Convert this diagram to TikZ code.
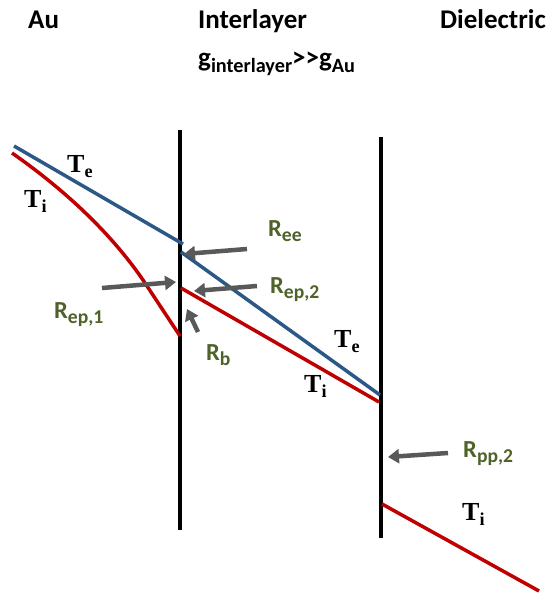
\documentclass[tikz,border=0pt]{standalone}
\usepackage{fontspec}
\setmainfont{Carlito}
\newfontfamily\timesf{Liberation Serif}
\usetikzlibrary{arrows.meta}
\definecolor{lineblue}{RGB}{44,88,135}
\definecolor{linered}{RGB}{192,0,0}
\definecolor{rgreen}{RGB}{79,98,40}
\definecolor{arrgray}{RGB}{89,89,89}
\newcommand{\hsub}[1]{\raisebox{-0.2em}{\scalebox{0.75}{#1}}}
\newcommand{\rsub}[1]{\raisebox{-0.24em}{\scalebox{0.8}{#1}}}
\newcommand{\tsub}[1]{\raisebox{-0.2em}{\scalebox{0.7}{#1}}}
\begin{document}
\begin{tikzpicture}[x=1pt,y=-1pt,
  hdr/.style={font=\fontsize{27}{30}\selectfont\bfseries, anchor=base west, inner sep=0pt},
  rlab/.style={font=\fontsize{24.5}{28}\selectfont\bfseries, text=rgreen, anchor=base west, inner sep=0pt},
  tlab/.style={font=\timesf\fontsize{26}{29}\selectfont\bfseries, anchor=base west, inner sep=0pt},
  wall/.style={line width=4pt, black},
  eline/.style={line width=3.5pt, lineblue},
  iline/.style={line width=3.5pt, linered},
  rarrow/.style={line width=4.5pt, arrgray, -{Triangle[length=11pt,width=14pt]}}]
\useasboundingbox (0,0) rectangle (558,596);
% headers
\node[hdr] (hau) at (28,29) {Au};
\node[hdr] (hint) at (198,29) {Interlayer};
\node[hdr] (hdie) at (440,29) {Dielectric};
\node[hdr] (hg) at (198,67) {g\hsub{interlayer}{>}{>}g\hsub{Au}};
% walls
\coordinate (w1t) at (180,130);
\coordinate (w1b) at (180,530);
\coordinate (w2t) at (381,137);
\coordinate (w2b) at (381,538);
\draw[wall] (w1t) -- (w1b);
\draw[wall] (w2t) -- (w2b);
% electron temperature
\coordinate (e0) at (14,146);
\coordinate (e1) at (183,244);
\coordinate (e2) at (181,252);
\coordinate (e3) at (380,395);
\draw[eline] (e0) -- (e1);
\draw[eline] (e2) -- (e3);
% ion temperature
\coordinate (i0) at (12,153);
\coordinate (im) at (143,280);
\coordinate (i1) at (180,336);
\coordinate (i2) at (181,288);
\coordinate (i3) at (379,402);
\coordinate (i4) at (382,504);
\coordinate (i5) at (539,591);
\draw[iline] (i0) .. controls (75,197) and (117,242) .. (im) -- (i1);
\draw[iline] (i2) -- (i3);
\draw[iline] (i4) -- (i5);
% temperature labels
\node[tlab] (te1) at (67,172) {T\tsub{e}};
\node[tlab] (ti1) at (24,207) {T\tsub{i}};
\node[tlab] (te2) at (334,347) {T\tsub{e}};
\node[tlab] (ti2) at (304,392) {T\tsub{i}};
\node[tlab] (ti3) at (462,520) {T\tsub{i}};
% resistance labels
\node[rlab] (ree) at (268,236) {R\rsub{ee}};
\node[rlab] (rep2) at (270,293) {R\rsub{ep,2}};
\node[rlab] (rep1) at (54,318) {R\rsub{ep,1}};
\node[rlab] (rb) at (206,360) {R\rsub{b}};
\node[rlab] (rpp) at (463,457) {R\rsub{pp,2}};
% arrows
\coordinate (aee0) at (247,249); \coordinate (aee1) at (184,254);
\coordinate (aep20) at (257,286); \coordinate (aep21) at (194,291);
\coordinate (aep10) at (102,288); \coordinate (aep11) at (176,282);
\coordinate (ab0) at (198,332); \coordinate (ab1) at (187,309);
\coordinate (app0) at (448,453); \coordinate (app1) at (388,457);
\draw[rarrow] (aee0) -- (aee1);
\draw[rarrow] (aep20) -- (aep21);
\draw[rarrow] (aep10) -- (aep11);
\draw[rarrow] (ab0) -- (ab1);
\draw[rarrow] (app0) -- (app1);
\end{tikzpicture}
\end{document}
